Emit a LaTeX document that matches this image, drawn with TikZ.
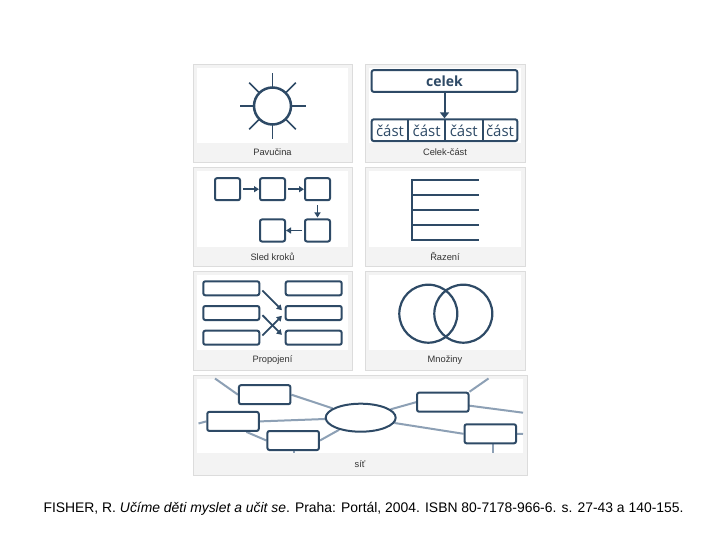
\documentclass[tikz,border=0pt]{standalone}
\usepackage{fontspec}
\setmainfont{Liberation Sans}
\newfontfamily\opensans{Open Sans}
\usetikzlibrary{arrows.meta,shapes.geometric,calc}
\definecolor{dk}{HTML}{2E4A66}
\definecolor{lt}{HTML}{8DA0B5}
\definecolor{pbg}{HTML}{F3F3F3}
\definecolor{pbd}{HTML}{DCDCDC}
\definecolor{captxt}{HTML}{333333}
\pgfdeclarelayer{bg}
\pgfdeclarelayer{lines}
\pgfsetlayers{bg,lines,main}
\newcommand\mypanel[6]{%
  \begin{pgfonlayer}{bg}
  \draw[pbd, fill=pbg, line width=0.8] (#1,#2) rectangle (#3,#4);
  \fill[white] (#1+4,#2+4) rectangle (#3-4,#5);
  \end{pgfonlayer}
  \node[captext] at ({(#1+#3)/2},{(#5+#4)/2}) {#6};}
\tikzset{
  captext/.style={font=\fontsize{9.3}{11}\selectfont, text=captxt, inner sep=0},
  dkline/.style={draw=dk, line width=2},
  rbox/.style={draw=dk, line width=2, rounded corners=2, fill=white, inner sep=0},
  arr/.style={draw=dk, line width=1.5, -{Triangle[length=5,width=6]}},
  ltline/.style={draw=lt, line width=2},
}
\begin{document}
\begin{tikzpicture}[x=1pt,y=-1pt]
\useasboundingbox (0,0) rectangle (720,540);
\begin{pgfonlayer}{bg}
\fill[white] (0,0) rectangle (720,540);
\end{pgfonlayer}

% panels
\mypanel{193}{64}{352}{162}{143}{Pavučina}
\mypanel{365}{64}{525}{162}{143}{Celek-část}
\mypanel{193}{167}{352}{266}{247}{Sled kroků}
\mypanel{365}{167}{525}{266}{247}{Řazení}
\mypanel{193}{271}{352}{370}{350}{Propojení}
\mypanel{365}{271}{525}{370}{350}{Množiny}
\mypanel{193}{375}{527}{475}{453}{síť}

% Pavucina
\node[circle, draw=dk, line width=2.5, minimum size=37, inner sep=0] (sun) at (272.5,106) {};
\foreach \a in {0,45,...,315}
  \draw[dk, line width=1.6] (272.5,106) ++(\a:19) -- ++(\a:14);

% Celek-cast
\node[rbox, minimum width=145.6, minimum height=21.7, font=\opensans\bfseries\fontsize{14}{14}\selectfont, text=dk] (celek) at (444.5,81) {celek};
\node[rbox, minimum width=145.6, minimum height=21.7] (row) at (444.5,130.2) {};
\draw[dkline] (408.3,119.3) -- (408.3,141.1);
\draw[dkline] (445,119.3) -- (445,141.1);
\draw[dkline] (482.7,119.3) -- (482.7,141.1);
\foreach \x/\n in {390/c1,426.6/c2,463.8/c3,500/c4}
  \node[font=\opensans\fontsize{15}{15}\selectfont, text=dk, inner sep=0] (\n) at (\x,130.5) {část};
\draw[dk, line width=2, -{Triangle[length=6,width=9]}] (celek) -- (row);

% Sled kroku
\tikzset{sq/.style={rbox, minimum width=25, minimum height=22}}
\node[sq] (b1) at (227.5,189.2) {};
\node[sq] (b2) at (272.5,189.2) {};
\node[sq] (b3) at (317.5,189.2) {};
\node[sq] (b5) at (317.5,230.5) {};
\node[sq] (b4) at (272.5,230.5) {};
\draw[arr, shorten <=2] (b1) -- (b2);
\draw[arr, shorten <=2] (b2) -- (b3);
\draw[arr, shorten <=4, shorten >=1] (b3) -- (b5);
\draw[arr, shorten <=2] (b5) -- (b4);

% Razeni
\draw[dkline] (411.7,179) -- (411.7,241);
\foreach \y in {180,195,210,225,240}
  \draw[dkline] (411.7,\y) -- (479,\y);

% Propojeni
\tikzset{wb/.style={rbox, minimum width=56, minimum height=14}}
\foreach \n/\x/\y in {l1/231.3/288.3, l2/231.3/313, l3/231.3/337.7, r1/313.7/288.3, r2/313.7/313, r3/313.7/337.7}
  \node[wb] (\n) at (\x,\y) {};
\draw[arr, line width=1.8, shorten <=3, shorten >=4] (l1.east) -- (r2.west);
\draw[arr, line width=1.8, shorten <=3, shorten >=4] (l2.east) -- (r3.west);
\draw[arr, line width=1.8, shorten <=3, shorten >=4] (l3.east) -- (r2.west);

% Mnoziny
\node[circle, draw=dk, line width=2.2, minimum size=58, inner sep=0] (s1) at (428.3,313.7) {};
\node[circle, draw=dk, line width=2.2, minimum size=58, inner sep=0] (s2) at (463.3,313.7) {};

% Sit
\node[ellipse, draw=dk, line width=2, fill=white, minimum width=70, minimum height=28, inner sep=0] (ell) at (360.7,417.7) {};
\tikzset{nb/.style={rbox, minimum width=51.5, minimum height=19}}
\node[nb] (A) at (264.7,394.7) {};
\node[nb] (B) at (233,421.4) {};
\node[nb] (C) at (293.2,440.5) {};
\node[nb] (D) at (442.8,402.2) {};
\node[nb] (E) at (490.3,433.8) {};
\coordinate (tl) at (215,378.5);
\coordinate (lb) at (198.5,423.5);
\coordinate (cb) at (294,453);
\coordinate (tr) at (488.5,378.5);
\coordinate (rr1) at (523,412.7);
\coordinate (rr2) at (523,434);
\coordinate (eb) at (492.5,453);
\begin{pgfonlayer}{lines}
\draw[ltline] (tl) -- (A.west);
\draw[ltline] (A.east) -- (ell);
\draw[ltline] (B.east) -- (ell);
\draw[ltline] (lb) -- (B.west);
\draw[ltline] ($(B.south)!0.5!(B.south east)$) -- (C.west);
\draw[ltline] (C.east) -- (ell);
\draw[ltline] (C.south -| cb) -- (cb);
\draw[ltline] (ell) -- (D.west);
\draw[ltline] (D.north east) -- (tr);
\draw[ltline] (D.center) -- (rr1);
\draw[ltline] (ell) -- (E.west);
\draw[ltline] (E.east) -- (rr2);
\draw[ltline] (E.south -| eb) -- (eb);
\end{pgfonlayer}

% citation
\node[font=\fontsize{13.9}{16}\selectfont, inner sep=0] (cit) at (363.5,508.5)
  {FISHER, R. \textit{Učíme děti myslet a učit se}. Praha: Portál, 2004. ISBN 80-7178-966-6. s. 27-43 a 140-155.};
\end{tikzpicture}
\end{document}
